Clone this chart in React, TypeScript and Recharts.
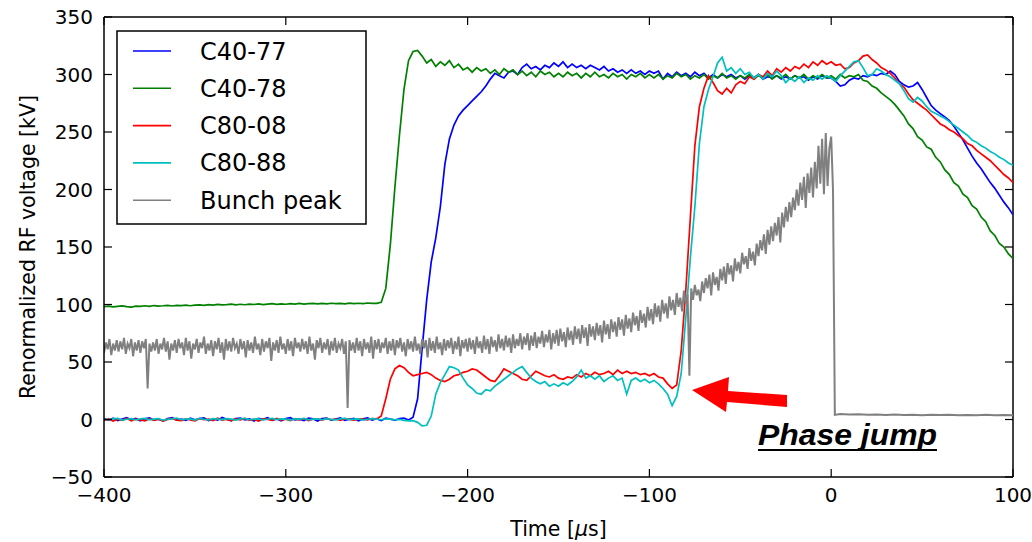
import { LineChart, Line, XAxis, YAxis, ReferenceLine, Legend } from 'recharts';

// sample times (µs) shared by the four cavity voltage traces
const TIME_US = [
  -400, -397.5, -395, -392.5, -390, -387.5, -385, -382.5, -380, -377.5,
  -375, -372.5, -370, -367.5, -365, -362.5, -360, -357.5, -355, -352.5,
  -350, -347.5, -345, -342.5, -340, -337.5, -335, -332.5, -330, -327.5,
  -325, -322.5, -320, -317.5, -315, -312.5, -310, -307.5, -305, -302.5,
  -300, -297.5, -295, -292.5, -290, -287.5, -285, -282.5, -280, -277.5,
  -275, -272.5, -270, -267.5, -265, -262.5, -260, -257.5, -255, -252.5,
  -250, -247.5, -245, -242.5, -240, -237.5, -235, -232.5, -230, -227.5,
  -225, -222.5, -220, -217.5, -215, -212.5, -210, -207.5, -205, -202.5,
  -200, -197.5, -195, -192.5, -190, -187.5, -185, -182.5, -180, -177.5,
  -175, -172.5, -170, -167.5, -165, -162.5, -160, -157.5, -155, -152.5,
  -150, -147.5, -145, -142.5, -140, -137.5, -135, -132.5, -130, -127.5,
  -125, -122.5, -120, -117.5, -115, -112.5, -110, -107.5, -105, -102.5,
  -100, -97.5, -95, -92.5, -90, -87.5, -85, -82.5, -80, -77.5,
  -75, -72.5, -70, -67.5, -65, -62.5, -60, -57.5, -55, -52.5,
  -50, -47.5, -45, -42.5, -40, -37.5, -35, -32.5, -30, -27.5,
  -25, -22.5, -20, -17.5, -15, -12.5, -10, -7.5, -5, -2.5,
  0, 2.5, 5, 7.5, 10, 12.5, 15, 17.5, 20, 22.5,
  25, 27.5, 30, 32.5, 35, 37.5, 40, 42.5, 45, 47.5,
  50, 52.5, 55, 57.5, 60, 62.5, 65, 67.5, 70, 72.5,
  75, 77.5, 80, 82.5, 85, 87.5, 90, 92.5, 95, 97.5,
  100,
];

const C40_77 = [
  0.8, -0.6, 1.2, -0.9, 0.4, 1.5, -0.3, 0.9, -1.1, 0.6,
  1.3, -0.4, 0.2, -1.2, 0.9, 1.6, -0.5, 0.3, -0.8, 1.1,
  -0.2, 0.7, 1.4, -1.0, 0.5, -0.6, 1.8, 0.1, -0.9, 0.8,
  1.2, -0.3, 0.6, -1.3, 0.9, 0.2, 1.5, -0.7, 0.4, -1.1,
  0.9, 1.6, -0.4, 0.3, -0.9, 1.2, 0.5, -1.4, 0.8, 1.1,
  -0.6, 0.4, 1.3, -0.8, 0.2, 0.9, -1.2, 0.6, 1.4, -0.5,
  0.7, -0.9, 1.1, 0.3, -0.6, 0.8, 1.2, -0.4, 2, 18,
  62, 104, 137, 158, 185, 222, 244, 256, 264, 269,
  273, 277, 281, 285, 290, 296, 301, 299, 297, 302,
  303, 300, 306, 309, 305, 307, 304, 308, 306, 310,
  307, 311, 306, 309, 306, 308, 305, 308, 306, 304,
  307, 303, 305, 302, 304, 301, 304, 301, 303, 300,
  303, 301, 303, 296, 301, 298, 302, 299, 301, 298,
  302, 299, 301, 297, 300, 297, 300, 298, 300, 297,
  299, 296, 299, 297, 300, 296, 298, 297, 299, 296,
  298, 296, 299, 297, 298, 295, 298, 296, 299, 297,
  297, 294, 290, 291, 295, 297, 296, 299, 298, 300,
  299, 301, 300, 303, 300, 294, 291, 289, 290, 293,
  287, 280, 273, 269, 266, 263, 260, 255, 249, 243,
  236, 229, 223, 218, 212, 206, 201, 195, 189, 184,
  178,
];

const C40_78 = [
  98.2, 98.6, 97.9, 98.4, 98.8, 98.1, 97.8, 98.5, 98.3, 98.9,
  98.4, 99.1, 98.6, 98.9, 99.3, 98.7, 99.2, 99.0, 99.5, 98.9,
  99.4, 99.7, 99.2, 99.8, 99.4, 100.1, 99.6, 99.9, 100.3, 99.7,
  100.2, 99.8, 100.4, 100.0, 100.6, 99.9, 100.3, 100.7, 100.1, 100.5,
  100.2, 100.8, 100.4, 100.9, 100.3, 100.7, 101.0, 100.5, 100.9, 100.6,
  101.1, 100.7, 101.0, 100.6, 101.2, 100.8, 101.1, 100.7, 101.3, 100.9,
  101.0, 102, 114, 152, 202, 247, 287, 312, 320, 321,
  316, 310, 313, 307, 311, 308, 312, 306, 309, 304,
  306, 302, 306, 303, 305, 301, 304, 300, 305, 302,
  304, 300, 303, 299, 302, 298, 303, 300, 302, 298,
  301, 298, 302, 299, 301, 297, 301, 298, 302, 298,
  300, 297, 301, 298, 300, 296, 300, 298, 301, 297,
  300, 297, 300, 296, 299, 297, 301, 298, 300, 296,
  299, 297, 300, 296, 299, 297, 301, 297, 299, 296,
  299, 297, 300, 296, 299, 297, 300, 296, 299, 297,
  300, 296, 299, 297, 300, 296, 299, 297, 300, 297,
  299, 296, 300, 297, 299, 298, 300, 295, 294, 290,
  288, 284, 281, 278, 274, 269, 264, 257, 253, 246,
  243, 237, 235, 228, 224, 217, 213, 206, 203, 196,
  193, 186, 183, 176, 172, 164, 160, 153, 150, 144,
  140,
];

const C80_08 = [
  -0.9, 0.5, -1.4, 0.2, -0.7, 1.0, -1.2, 0.4, -0.3, -1.1,
  0.6, -0.8, 0.3, -1.3, 0.1, 0.9, -0.6, -1.0, 0.5, -0.4,
  -1.2, 0.7, -0.2, 0.4, -0.9, 1.1, -0.5, 0.3, -1.1, 0.6,
  -0.4, 0.9, -0.8, 0.2, -1.3, 0.5, 0.1, -0.7, 1.0, -0.5,
  0.3, -1.0, 0.6, -0.3, 0.8, -0.9, 0.2, 0.5, -0.6, 0.9,
  -0.2, 0.4, -0.8, 0.7, 0.1, -0.5, 0.6, 0.3, -0.4, 0.8,
  0.5, 3, 18, 35, 44, 47, 45, 41, 38, 39,
  40, 41, 39, 36, 34, 33, 35, 38, 39, 41,
  42, 44, 43, 40, 37, 34, 33, 38, 44, 42,
  40, 38, 35, 34, 38, 42, 40, 38, 37, 39,
  36, 35, 37, 36, 39, 37, 40, 38, 41, 39,
  40, 42, 39, 43, 40, 42, 40, 41, 39, 40,
  38, 40, 37, 36, 31, 27, 30, 60, 112, 175,
  238, 272, 288, 299, 293, 286, 283, 288, 284, 291,
  294, 292, 298, 296, 300, 298, 303, 299, 305, 302,
  306, 303, 307, 305, 309, 306, 311, 308, 312, 309,
  311, 308, 309, 305, 306, 310, 312, 316, 317, 313,
  310, 306, 304, 301, 297, 292, 289, 283, 278, 275,
  272, 269, 265, 261, 257, 255, 252, 250, 247, 244,
  240, 238, 234, 231, 228, 225, 221, 217, 213, 210,
  206,
];

const C80_88 = [
  0.3, -0.2, 0.6, 1.0, -0.5, 0.2, 0.8, -0.4, 0.5, 0.9,
  -0.3, 0.4, 0.7, -0.6, 0.1, 0.5, 1.1, -0.2, 0.3, 0.6,
  -0.5, 0.9, 0.2, -0.3, 0.7, 0.4, -0.1, 0.8, 0.3, -0.6,
  0.5, 1.0, -0.2, 0.4, 0.6, -0.4, 0.2, 0.9, -0.1, 0.5,
  0.3, -0.5, 0.7, 0.2, 1.0, -0.3, 0.4, 0.6, -0.2, 0.8,
  0.1, -0.4, 0.5, 0.9, -0.1, 0.3, 0.6, -0.5, 0.2, 0.7,
  0.4, -0.2, 0.5, 0.3, -0.4, 0.1, -0.8, -1.2, -1.0, -2.5,
  -5.5, -5, 3, 22, 32, 39, 46, 45, 43, 36,
  30, 27, 23, 22, 26, 25, 29, 32, 35, 38,
  41, 44, 46, 41, 36, 33, 31, 33, 29, 31,
  29, 32, 30, 33, 37, 43, 36, 38, 35, 38,
  33, 36, 38, 34, 36, 22, 34, 36, 33, 35,
  32, 34, 31, 27, 22, 12, 20, 40, 88, 140,
  185, 240, 272, 287, 298, 310, 315, 303, 306, 301,
  305, 300, 302, 297, 300, 296, 301, 298, 303, 299,
  293, 297, 294, 298, 293, 297, 295, 299, 296, 299,
  297, 294, 299, 303, 307, 311, 312, 306, 299, 300,
  305, 303, 300, 298, 295, 292, 286, 279, 276, 280,
  277, 272, 268, 266, 264, 262, 259, 256, 253, 250,
  247, 243, 241, 238, 236, 233, 231, 228, 226, 223,
  221,
];

// bunch peak is sampled on its own, finer grid
const BUNCH_TIME_US = [
  -400, -399, -398, -397, -396, -395, -394, -393, -392, -391,
  -390, -389, -388, -387, -386, -385, -384, -383, -382, -381,
  -380, -379, -378, -377, -376, -375, -374, -373, -372, -371,
  -370, -369, -368, -367, -366, -365, -364, -363, -362, -361,
  -360, -359, -358, -357, -356, -355, -354, -353, -352, -351,
  -350, -349, -348, -347, -346, -345, -344, -343, -342, -341,
  -340, -339, -338, -337, -336, -335, -334, -333, -332, -331,
  -330, -329, -328, -327, -326, -325, -324, -323, -322, -321,
  -320, -319, -318, -317, -316, -315, -314, -313, -312, -311,
  -310, -309, -308, -307, -306, -305, -304, -303, -302, -301,
  -300, -299, -298, -297, -296, -295, -294, -293, -292, -291,
  -290, -289, -288, -287, -286, -285, -284, -283, -282, -281,
  -280, -279, -278, -277, -276, -275, -274, -273, -272, -271,
  -270, -269, -268, -267, -266, -265, -264, -263, -262, -261,
  -260, -259, -258, -257, -256, -255, -254, -253, -252, -251,
  -250, -249, -248, -247, -246, -245, -244, -243, -242, -241,
  -240, -239, -238, -237, -236, -235, -234, -233, -232, -231,
  -230, -229, -228, -227, -226, -225, -224, -223, -222, -221,
  -220, -219, -218, -217, -216, -215, -214, -213, -212, -211,
  -210, -209, -208, -207, -206, -205, -204, -203, -202, -201,
  -200, -199, -198, -197, -196, -195, -194, -193, -192, -191,
  -190, -189, -188, -187, -186, -185, -184, -183, -182, -181,
  -180, -179, -178, -177, -176, -175, -174, -173, -172, -171,
  -170, -169, -168, -167, -166, -165, -164, -163, -162, -161,
  -160, -159, -158, -157, -156, -155, -154, -153, -152, -151,
  -150, -149, -148, -147, -146, -145, -144, -143, -142, -141,
  -140, -139, -138, -137, -136, -135, -134, -133, -132, -131,
  -130, -129, -128, -127, -126, -125, -124, -123, -122, -121,
  -120, -119, -118, -117, -116, -115, -114, -113, -112, -111,
  -110, -109, -108, -107, -106, -105, -104, -103, -102, -101,
  -100, -99, -98, -97, -96, -95, -94, -93, -92, -91,
  -90, -89, -88, -87, -86, -85, -84, -83, -82, -81,
  -80, -79, -78, -77, -76, -75, -74, -73, -72, -71,
  -70, -69, -68, -67, -66, -65, -64, -63, -62, -61,
  -60, -59, -58, -57, -56, -55, -54, -53, -52, -51,
  -50, -49, -48, -47, -46, -45, -44, -43, -42, -41,
  -40, -39, -38, -37, -36, -35, -34, -33, -32, -31,
  -30, -29, -28, -27, -26, -25, -24, -23, -22, -21,
  -20, -19, -18, -17, -16, -15, -14, -13, -12, -11,
  -10, -9, -8, -7, -6, -5, -4, -3, -2, -1,
  0, 1, 2,
  5, 10, 15, 20, 25, 30, 35, 40, 45, 50,
  55, 60, 65, 70, 75, 80, 85, 90, 95, 100,
];

const BUNCH_PEAK = [
  58, 67, 61, 70, 56, 66, 60, 69, 59, 68,
  61, 71, 57, 66, 62, 70, 55, 67, 60, 69,
  58, 68, 62, 70, 27, 66, 59, 67, 60, 70,
  57, 66, 61, 71, 59, 68, 52, 66, 60, 69,
  58, 70, 62, 67, 56, 71, 60, 68, 53, 66,
  61, 70, 58, 67, 62, 72, 57, 66, 60, 69,
  55, 68, 61, 71, 58, 67, 52, 70, 60, 68,
  59, 71, 62, 66, 57, 70, 61, 68, 54, 69,
  60, 67, 58, 72, 61, 66, 56, 70, 59, 68,
  62, 71, 51, 67, 60, 69, 58, 72, 61, 66,
  57, 70, 60, 68, 55, 71, 62, 67, 59, 70,
  61, 68, 57, 72, 60, 66, 52, 69, 62, 71,
  58, 67, 61, 70, 56, 68, 60, 71, 58, 66,
  62, 70, 57, 68, 10, 69, 60, 67, 58, 71,
  60, 68, 55, 70, 61, 67, 58, 72, 53, 69,
  61, 70, 58, 67, 62, 71, 57, 68, 60, 70,
  56, 69, 62, 71, 59, 67, 55, 70, 61, 68,
  59, 72, 60, 66, 57, 70, 62, 69, 54, 71,
  60, 68, 58, 72, 61, 67, 56, 70, 60, 69,
  62, 71, 57, 68, 61, 72, 55, 69, 62, 70,
  59, 71, 61, 69, 57, 72, 62, 68, 58, 73,
  61, 70, 57, 72, 63, 69, 59, 74, 62, 70,
  60, 73, 63, 71, 58, 74, 62, 70, 64, 75,
  61, 72, 65, 75, 60, 73, 64, 76, 62, 72,
  66, 77, 63, 74, 67, 78, 61, 75, 66, 78,
  64, 79, 68, 76, 63, 80, 69, 77, 65, 81,
  70, 79, 66, 82, 71, 80, 64, 83, 72, 81,
  69, 84, 73, 82, 67, 86, 74, 83, 70, 87,
  76, 85, 72, 89, 78, 87, 73, 91, 79, 88,
  76, 93, 82, 90, 77, 95, 84, 92, 80, 98,
  86, 96, 83, 101, 89, 99, 85, 104, 92, 101,
  88, 107, 95, 104, 91, 110, 98, 106, 94, 112,
  101, 109, 38, 114, 104, 117, 108, 113, 103, 120,
  110, 123, 114, 126, 108, 128, 117, 124, 112, 131,
  121, 133, 118, 136, 126, 134, 120, 140, 129, 137,
  127, 145, 135, 142, 131, 149, 138, 146, 134, 153,
  142, 156, 147, 161, 144, 165, 152, 168, 155, 171,
  160, 176, 154, 180, 167, 185, 172, 189, 176, 193,
  182, 200, 186, 206, 191, 211, 184, 214, 197, 219,
  193, 224, 201, 238, 205, 244, 196, 249, 203, 236,
  246, 199, 4,
  4.8, 4.3, 4.6, 4.1, 4.4, 3.9, 4.3, 4.0, 4.2, 3.8,
  4.1, 3.9, 4.2, 3.8, 4.0, 3.7, 4.1, 3.8, 3.9, 3.7,
];

const X_TICKS = [-400, -300, -200, -100, 0, 100];
const Y_TICKS = [-50, 0, 50, 100, 150, 200, 250, 300, 350];

const SERIES = [
  { name: 'C40-77', color: '#0000ff', time: TIME_US, values: C40_77 },
  { name: 'C40-78', color: '#008000', time: TIME_US, values: C40_78 },
  { name: 'C80-08', color: '#ff0000', time: TIME_US, values: C80_08 },
  { name: 'C80-88', color: '#00bfbf', time: TIME_US, values: C80_88 },
  { name: 'Bunch peak', color: '#808080', time: BUNCH_TIME_US, values: BUNCH_PEAK },
];

const W = 1032;
const H = 542;
const PLOT = { left: 104, top: 17, right: 1013, bottom: 477 };
const FONT = '"DejaVu Sans", Verdana, sans-serif';
const TICK_LEN = 8;

const fmt = (v: number) => String(v).replace('-', '\u2212');

// ticks point inward on all four sides, like the classic matplotlib style
function XTick(props: any) {
  const { x, y, payload } = props;
  return (
    <g>
      <line x1={x} y1={y} x2={x} y2={y - TICK_LEN} stroke="#000" strokeWidth={1.2} />
      <line x1={x} y1={PLOT.top} x2={x} y2={PLOT.top + TICK_LEN} stroke="#000" strokeWidth={1.2} />
      <text x={x} y={y + 25} textAnchor="middle" fontSize={20} fontFamily={FONT} fill="#000">
        {fmt(payload.value)}
      </text>
    </g>
  );
}

function YTick(props: any) {
  const { x, y, payload } = props;
  return (
    <g>
      <line x1={x} y1={y} x2={x + TICK_LEN} y2={y} stroke="#000" strokeWidth={1.2} />
      <line x1={PLOT.right} y1={y} x2={PLOT.right - TICK_LEN} y2={y} stroke="#000" strokeWidth={1.2} />
      <text x={x - 11} y={y + 7} textAnchor="end" fontSize={20} fontFamily={FONT} fill="#000">
        {fmt(payload.value)}
      </text>
    </g>
  );
}

function LegendBox(props: any) {
  const items = [...(props.payload || [])].sort(
    (a: any, b: any) =>
      SERIES.findIndex((s) => s.name === a.value) - SERIES.findIndex((s) => s.name === b.value)
  );
  return (
    <svg width={252} height={196} style={{ display: 'block' }}>
      <rect x={1} y={1} width={249} height={193} fill="#fff" stroke="#000" strokeWidth={1.5} />
      {items.map((p: any, i: number) => {
        const y = 21 + i * 37.3;
        const s = SERIES.find((d) => d.name === p.value);
        return (
          <g key={p.value}>
            <line x1={17} x2={55} y1={y} y2={y} stroke={s ? s.color : p.color} strokeWidth={1.6} />
            <text x={84} y={y + 8.5} fontSize={24} fontFamily={FONT} fill="#000">
              {p.value}
            </text>
          </g>
        );
      })}
    </svg>
  );
}

const xLabel = () => (
  <text x={(PLOT.left + PLOT.right) / 2} y={536} textAnchor="middle" fontSize={20.5} fontFamily={FONT} fill="#000">
    Time [<tspan fontStyle="italic">μ</tspan>s]
  </text>
);

const yLabel = () => {
  const cx = 35;
  const cy = (PLOT.top + PLOT.bottom) / 2;
  return (
    <text
      x={cx}
      y={cy}
      transform={`rotate(-90 ${cx} ${cy})`}
      textAnchor="middle"
      fontSize={20.5}
      fontFamily={FONT}
      fill="#000"
    >
      Renormalized RF voltage [kV]
    </text>
  );
};

export default function App() {
  return (
    <div style={{ position: 'absolute', left: 0, top: 0, width: W, height: H, background: '#fff' }}>
      <LineChart
        width={W}
        height={H}
        margin={{ top: PLOT.top, right: W - PLOT.right, bottom: 0, left: PLOT.left - 1 }}
      >
        <XAxis
          dataKey="t"
          type="number"
          domain={[-400, 100]}
          ticks={X_TICKS}
          interval={0}
          allowDataOverflow
          height={H - PLOT.bottom}
          tickSize={0}
          tickMargin={0}
          tickLine={false}
          tick={XTick}
          axisLine={{ stroke: '#000', strokeWidth: 1.5 }}
          label={xLabel}
        />
        <YAxis
          type="number"
          domain={[-50, 350]}
          ticks={Y_TICKS}
          interval={0}
          allowDataOverflow
          width={1}
          tickSize={0}
          tickMargin={0}
          tickLine={false}
          tick={YTick}
          axisLine={{ stroke: '#000', strokeWidth: 1.5 }}
          label={yLabel}
        />
        <ReferenceLine y={350} stroke="#000" strokeWidth={1.5} ifOverflow="visible" />
        <ReferenceLine x={100} stroke="#000" strokeWidth={1.5} ifOverflow="visible" />
        {SERIES.map((s) => (
          <Line
            key={s.name}
            name={s.name}
            data={s.time.map((t, i) => ({ t, v: s.values[i] }))}
            dataKey="v"
            stroke={s.color}
            strokeWidth={s.name === 'Bunch peak' ? 2 : 1.7}
            dot={false}
            activeDot={false}
            isAnimationActive={false}
          />
        ))}
        <Legend
          layout="vertical"
          align="center"
          verticalAlign="middle"
          content={LegendBox}
          wrapperStyle={{ left: 116, top: 30, width: 252, height: 196 }}
        />
      </LineChart>
      <svg
        width={W}
        height={H}
        style={{ position: 'absolute', left: 0, top: 0, pointerEvents: 'none' }}
      >
        <polygon
          points="692,390 729,377 728,391 787,395 787,407 727,402 726,412"
          fill="#ff0000"
        />
        <text
          x={758}
          y={445}
          fontSize={30}
          fontWeight="bold"
          fontStyle="italic"
          fontFamily='"Liberation Sans", Arial, sans-serif'
          textLength={179}
          lengthAdjust="spacingAndGlyphs"
          fill="#000"
        >
          Phase jump
        </text>
        <line x1={758} x2={937} y1={450} y2={450} stroke="#000" strokeWidth={2} />
      </svg>
    </div>
  );
}
